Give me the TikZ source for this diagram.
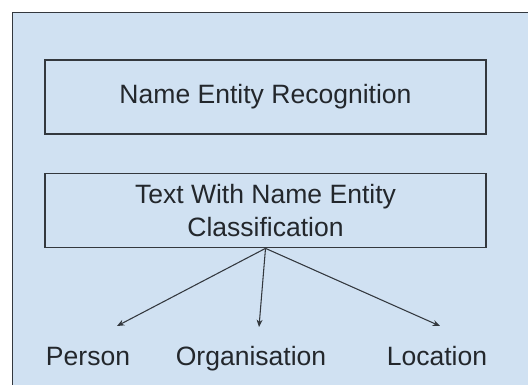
\documentclass[tikz,border=0pt]{standalone}
\usepackage{fontspec}
\setmainfont{Liberation Sans}
\usetikzlibrary{arrows.meta}
\definecolor{panel}{HTML}{D0E1F2}
\definecolor{ink}{HTML}{23272C}
\definecolor{rim}{HTML}{33383E}
\tikzset{
  box/.style={draw=rim, line width=1.3pt, minimum width=330.75pt, minimum height=55.5pt,
              align=center, inner sep=0pt, text=ink, font=\fontsize{19.9}{24.75}\selectfont},
  lbl/.style={text=ink, inner sep=0pt, anchor=base, font=\fontsize{19.9}{24}\selectfont},
  link/.style={-{Stealth[length=5.5pt,width=4.5pt]}, draw=rim, line width=0.8pt},
}
\begin{document}
\begin{tikzpicture}[x=0.75pt,y=0.75pt]
\useasboundingbox (0,0) rectangle (528,-385);
\clip (0,0) rectangle (528,-385);
\fill[white] (0,0) rectangle (528,-385);
% panel (runs off the right and bottom edges)
\draw[fill=panel, draw=rim, line width=1.3pt] (12.5,-12.5) rectangle (560,-420);
% boxes
\node[box] (ner) at (265.5,-97)   {Name Entity Recognition};
\node[box] (cls) at (265.5,-210.5) {Text With Name Entity\\Classification};
% classes
\node[lbl] (person) at (88,-365)  {Person};
\node[lbl] (org)    at (251,-365) {Organisation};
\node[lbl] (loc)    at (437,-365) {Location};
% arrow tips just above the labels
\coordinate (personTip) at (117,-326);
\coordinate (orgTip)    at (259,-327);
\coordinate (locTip)    at (440,-326);
\draw[link] (cls.south) -- (personTip);
\draw[link] (cls.south) -- (orgTip);
\draw[link] (cls.south) -- (locTip);
\end{tikzpicture}
\end{document}
